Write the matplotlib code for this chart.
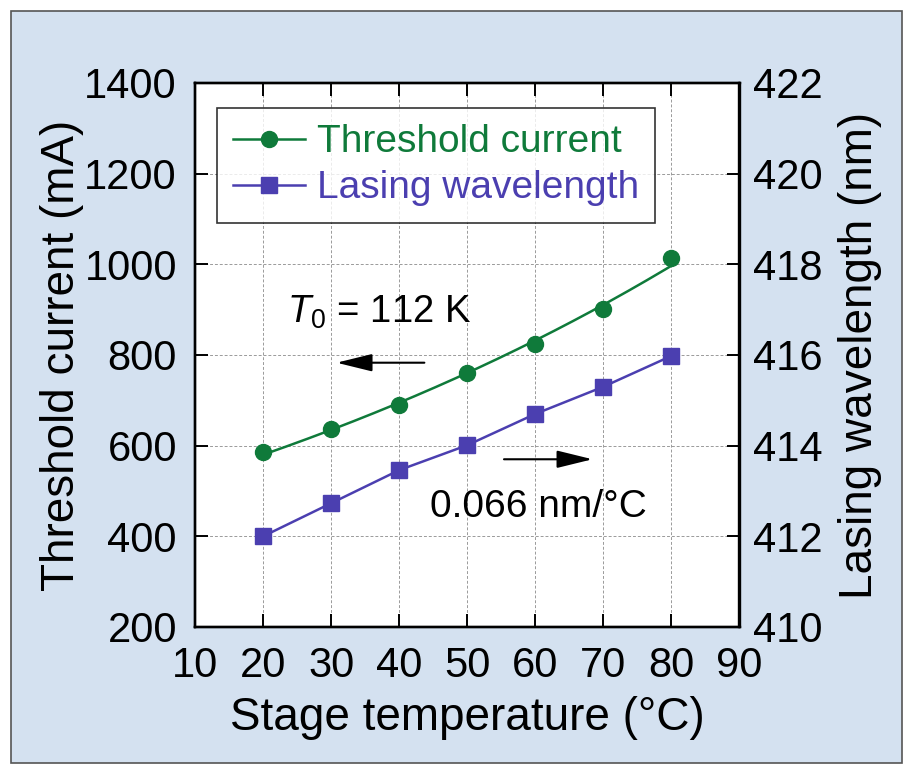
import numpy as np
import matplotlib
matplotlib.use('Agg')
import matplotlib.pyplot as plt
from matplotlib.patches import Rectangle

plt.rcParams['font.family'] = 'Liberation Sans'
plt.rcParams['mathtext.fontset'] = 'custom'
plt.rcParams['mathtext.rm'] = 'Liberation Sans'
plt.rcParams['mathtext.it'] = 'Liberation Sans:italic'

# Data
temperature = [20, 30, 40, 50, 60, 70, 80]
threshold_current = [585, 636, 690, 760, 824, 901, 1015]   # mA
lasing_wavelength = [412.0, 412.73, 413.46, 414.01, 414.70, 415.30, 415.98]  # nm

x_ticks = [10, 20, 30, 40, 50, 60, 70, 80, 90]
left_ticks = [200, 400, 600, 800, 1000, 1200, 1400]
right_ticks = [410, 412, 414, 416, 418, 420, 422]

green = '#0f7a3a'
purple = '#4b3fb0'

fig = plt.figure(figsize=(9.08, 7.64), dpi=100)
fig.patch.set_facecolor('white')

# light blue panel behind the chart
panel = Rectangle((11 / 908, 1.5 / 764), 891 / 908, 751.5 / 764,
                  transform=fig.transFigure, facecolor='#d4e1f0',
                  edgecolor='#555555', lw=1.2, zorder=-10)
fig.patches.append(panel)

ax = fig.add_axes([195 / 908, 1 - 627 / 764, 544.5 / 908, 544 / 764])
ax2 = ax.twinx()

# exponential fit of the threshold current (I = I0 exp(T/T0))
coef = np.polyfit(temperature, np.log(threshold_current), 1)
t_fit = np.linspace(min(temperature), max(temperature), 200)
i_fit = np.exp(np.polyval(coef, t_fit))
ax.plot(t_fit, i_fit, color=green, lw=1.8, zorder=3)
ax.plot(temperature, threshold_current, 'o', color=green, ms=11.5, zorder=4)
h1, = ax.plot([], [], '-o', color=green, lw=1.8, ms=11.5, label='Threshold current')

h2, = ax2.plot(temperature, lasing_wavelength, '-s', color=purple, lw=1.8, ms=12,
               label='Lasing wavelength', zorder=4)

ax.set_xlim(10, 90)
ax.set_ylim(200, 1400)
ax2.set_ylim(410, 422)
ax.set_xticks(x_ticks)
ax.set_yticks(left_ticks)
ax2.set_yticks(right_ticks)

ax.grid(True, ls=(0, (3, 2)), color='#9a9a9a', lw=0.7)
ax.set_axisbelow(True)

ax.tick_params(axis='x', direction='in', top=True, length=9.5, width=1.4,
               labelsize=30, pad=13.5)
ax.tick_params(axis='y', direction='in', right=False, length=9.5, width=1.4,
               labelsize=30, pad=13)
ax2.tick_params(axis='y', direction='in', length=9.5, width=1.4,
                labelsize=30, pad=9.5)

for a in (ax, ax2):
    for s in a.spines.values():
        s.set_linewidth(1.7)

ax.set_xlabel('Stage temperature (°C)', fontsize=33)
ax.xaxis.set_label_coords(0.5, -0.127)
ax.set_ylabel('Threshold current (mA)', fontsize=33)
ax.yaxis.set_label_coords(-0.203, 0.5)
ax2.set_ylabel('Lasing wavelength (nm)', fontsize=33)
ax2.yaxis.set_label_coords(1.181, 0.5)

leg = ax2.legend(handles=[h1, h2], loc='upper left', bbox_to_anchor=(0.040, 0.954),
                 borderaxespad=0, fontsize=28, frameon=True, fancybox=False,
                 handlelength=1.85, handletextpad=0.3, labelspacing=0.26,
                 borderpad=0.42, labelcolor='linecolor')
leg.get_frame().set_edgecolor('black')
leg.get_frame().set_linewidth(1.2)

# annotations
ax.text(23.45, 871, r'$T_{\mathit{0}}$ = 112 K', fontsize=27.5, ha='left', va='baseline')
ax.annotate('', xy=(30.8, 783), xytext=(43.7, 783),
            arrowprops=dict(arrowstyle='-|>,head_length=1.1,head_width=0.27',
                            mutation_scale=20, lw=1.5, color='black',
                            shrinkA=0, shrinkB=0))
ax.annotate('', xy=(68.4, 570), xytext=(55.4, 570),
            arrowprops=dict(arrowstyle='-|>,head_length=1.1,head_width=0.27',
                            mutation_scale=20, lw=1.5, color='black',
                            shrinkA=0, shrinkB=0))
ax.text(44.6, 443, '0.066 nm/°C', fontsize=28, ha='left', va='baseline')

plt.savefig('out.png', dpi=100)
